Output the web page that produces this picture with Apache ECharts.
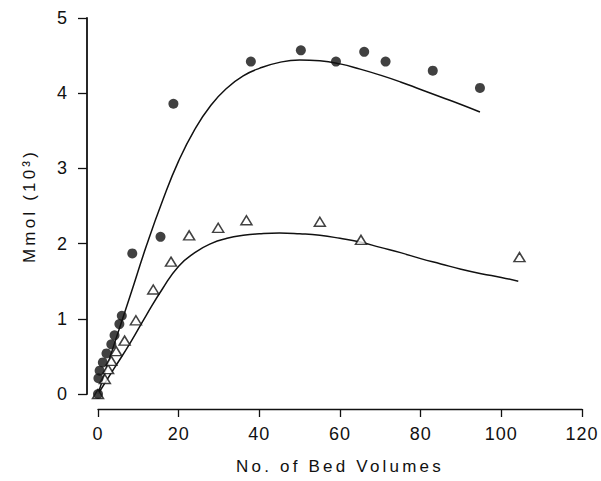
<!DOCTYPE html>
<html>
<head>
<meta charset="utf-8">
<script src="https://cdn.jsdelivr.net/npm/echarts@6/dist/echarts.min.js"></script>
<style>
  html, body { margin: 0; padding: 0; background: #fff; }
  #chart { width: 601px; height: 481px; }
  /* the scanned figure uses loosely spaced lettering */
  #chart text[style*="17px"] { letter-spacing: 3.2px; }
  #chart text[style*="18px"] { letter-spacing: 1px; }
</style>
</head>
<body>
<div id="chart"></div>
<script>
// measured points, [bed volumes, mmol (10^3)]
const circlePoints = [
  [0, 0], [0.1, 0.21], [0.4, 0.31], [1.2, 0.42], [2.1, 0.54], [3.3, 0.66],
  [4.1, 0.78], [5.3, 0.93], [5.9, 1.04], [8.5, 1.87], [15.5, 2.09],
  [18.7, 3.86], [37.9, 4.42], [50.3, 4.57], [59.0, 4.42], [66.0, 4.55],
  [71.3, 4.42], [83.0, 4.30], [94.7, 4.07]
];
const trianglePoints = [
  [0, 0], [1.7, 0.2], [2.5, 0.33], [3.3, 0.44], [4.5, 0.57], [6.6, 0.71],
  [9.4, 0.98], [13.7, 1.39], [18.1, 1.76], [22.6, 2.11], [29.8, 2.21],
  [36.8, 2.31], [55.0, 2.29], [65.2, 2.05], [104.5, 1.82]
];

// fitted curves
const upperFit = [
  [0, 0], [4, 0.66], [8, 1.31], [12, 1.97], [16, 2.57], [20, 3.1],
  [24, 3.52], [28, 3.84], [32, 4.07], [36, 4.23], [40, 4.33], [45, 4.41],
  [50, 4.44], [55, 4.43], [60, 4.39], [65, 4.32], [70, 4.24], [75, 4.15],
  [80, 4.05], [85, 3.95], [90, 3.85], [94.7, 3.75]
];
const lowerFit = [
  [0, 0], [4, 0.34], [8, 0.68], [12, 1.05], [16, 1.4], [20, 1.7],
  [24, 1.88], [28, 2.0], [32, 2.07], [36, 2.11], [40, 2.13], [45, 2.14],
  [50, 2.13], [55, 2.11], [60, 2.07], [65, 2.02], [70, 1.95], [75, 1.88],
  [80, 1.8], [85, 1.73], [90, 1.66], [95, 1.6], [100, 1.55], [104.2, 1.5]
];

const font = "Liberation Sans";
const ink = "#111";

const chart = echarts.init(document.getElementById("chart"), null, { renderer: "svg" });

chart.setOption({
  backgroundColor: "#fff",
  animation: false,
  grid: { left: 98, right: 19, top: 18, bottom: 87 },
  xAxis: {
    type: "value",
    min: 0,
    max: 120,
    interval: 20,
    offset: 15,
    name: "No. of Bed Volumes",
    nameLocation: "middle",
    nameGap: 49,
    nameTextStyle: { fontFamily: font, fontSize: 17, color: ink },
    axisLine: { show: true, onZero: false, lineStyle: { color: ink, width: 1.3 } },
    axisTick: { show: true, inside: false, length: 8, lineStyle: { color: ink, width: 1.3 } },
    axisLabel: { fontFamily: font, fontSize: 18, color: ink, margin: 16 },
    splitLine: { show: false }
  },
  yAxis: {
    type: "value",
    min: 0,
    max: 5,
    interval: 1,
    offset: 11,
    name: "Mmol (10³)",
    nameLocation: "middle",
    nameGap: 49,
    nameTextStyle: { fontFamily: font, fontSize: 17, color: ink },
    axisLine: { show: true, onZero: false, lineStyle: { color: ink, width: 1.8 } },
    axisTick: { show: true, inside: false, length: 9, lineStyle: { color: ink, width: 1.3 } },
    axisLabel: { fontFamily: font, fontSize: 18, color: ink, margin: 19 },
    splitLine: { show: false }
  },
  series: [
    {
      type: "line",
      data: upperFit,
      smooth: true,
      showSymbol: false,
      lineStyle: { color: ink, width: 1.5 },
      z: 2
    },
    {
      type: "line",
      data: lowerFit,
      smooth: true,
      showSymbol: false,
      lineStyle: { color: ink, width: 1.5 },
      z: 2
    },
    {
      type: "scatter",
      data: trianglePoints,
      symbol: "triangle",
      symbolSize: [11, 9],
      itemStyle: { color: "#fff", borderColor: ink, borderWidth: 1.5 },
      z: 3
    },
    {
      type: "scatter",
      data: circlePoints,
      symbol: "circle",
      symbolSize: 10,
      itemStyle: { color: ink },
      z: 4
    }
  ]
});
</script>
</body>
</html>
